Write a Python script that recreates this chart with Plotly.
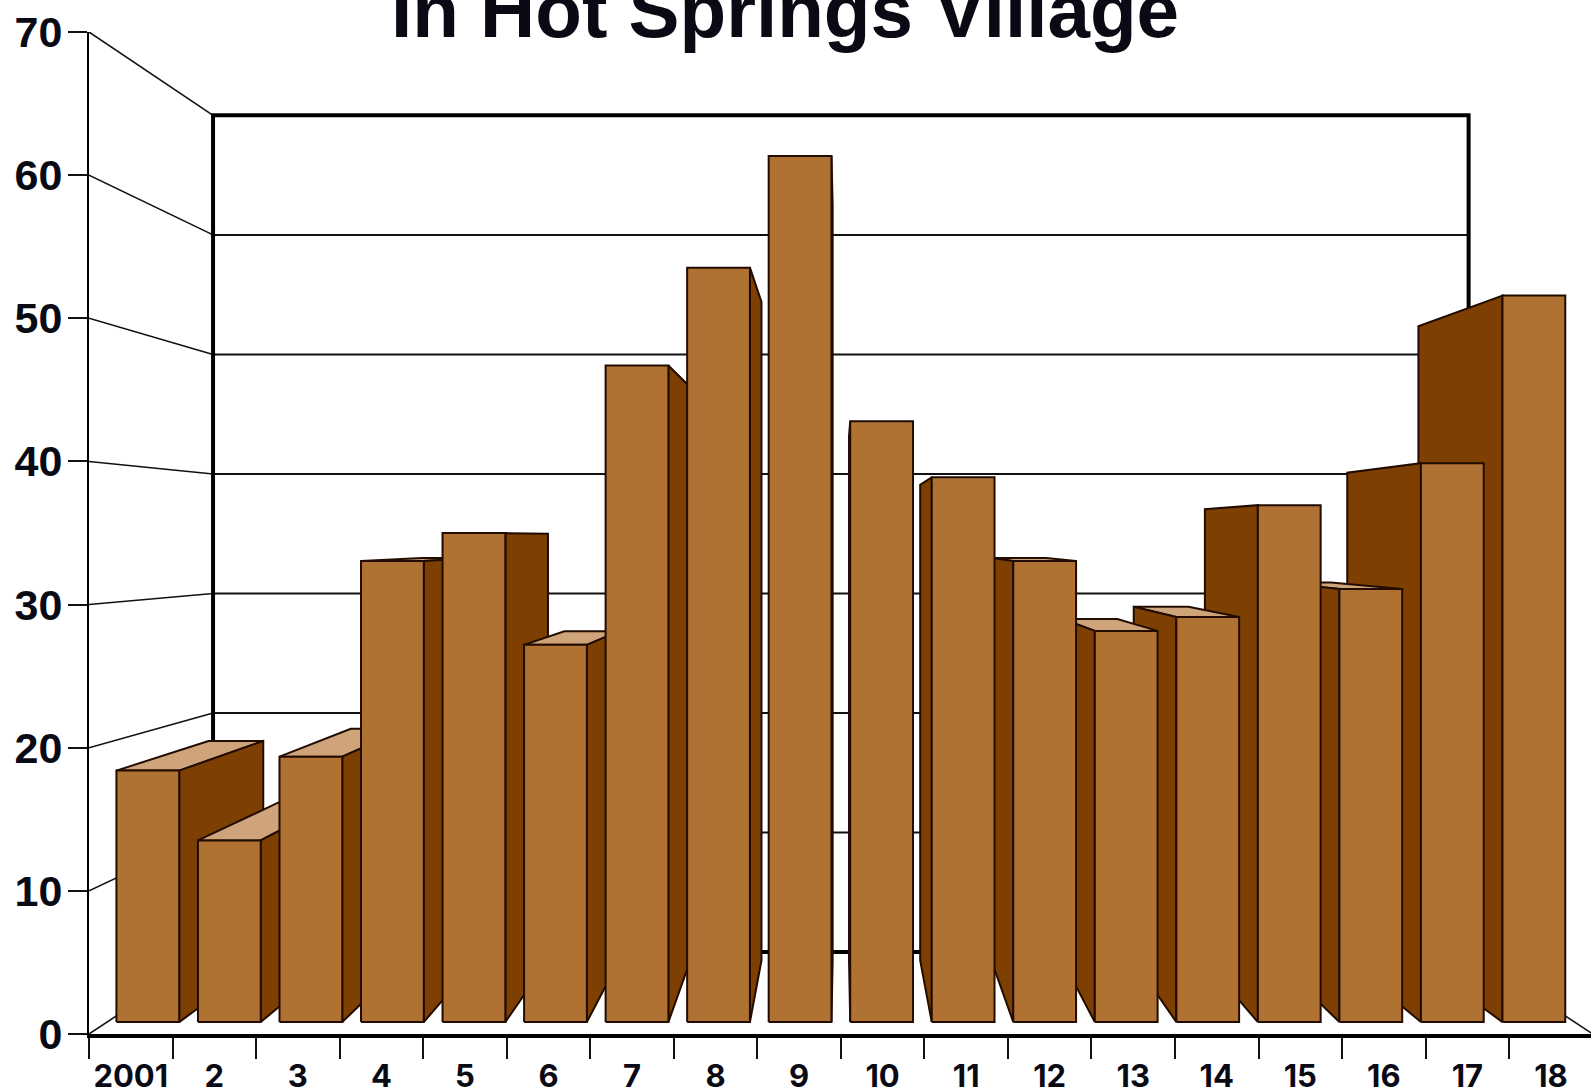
import plotly.graph_objects as go

# ---------- data ----------
categories = ["2001", "2", "3", "4", "5", "6", "7", "8", "9", "10", "11", "12", "13", "14", "15", "16", "17", "18"]
values = [18, 13, 19, 33, 35, 27, 47, 54, 62, 43, 39, 33, 28, 29, 37, 31, 40, 52]
y_ticks = [0, 10, 20, 30, 40, 50, 60, 70]
title_text = "In Hot Springs Village"

# ---------- one-point perspective, in data units ----------
VP_X, VP_Y = 9.0, 34.7      # vanishing point
S_WALL = 0.835              # scale of the back wall
S_BAR_FRONT = 0.976         # scale of the bars' front face
S_BAR_BACK = 0.852          # scale of the bars' back face
BAR_L, BAR_R = 0.115, 0.885 # bar edges inside a slot
N = len(values)

FACE, SIDE, TOP, EDGE = "#B07233", "#7D4002", "#D0A47A", "#220C00"


def P(x, v, s):
    return VP_X + s * (x - VP_X), VP_Y + s * (v - VP_Y)


fig = go.Figure()


def poly(points, fill=None, color="#111111", width=2):
    xs = [p[0] for p in points]
    ys = [p[1] for p in points]
    kw = dict(fill="toself", fillcolor=fill) if fill else {}
    fig.add_trace(go.Scatter(x=xs, y=ys, mode="lines", showlegend=False, hoverinfo="skip",
                             line=dict(color=color, width=width), **kw))


# back wall grid
for v in y_ticks[1:-1]:
    poly([P(0, v, S_WALL), P(N, v, S_WALL)], width=2)
# side wall receding lines
for v in y_ticks:
    poly([P(0, v, 1), P(0, v, S_WALL)], width=1.6)
    if v == 0:
        poly([P(N, v, 1), P(N, v, S_WALL)], width=1.6)
# back wall frame
poly([P(0, 0, S_WALL), P(0, 70, S_WALL), P(N, 70, S_WALL), P(N, 0, S_WALL), P(0, 0, S_WALL)],
     color="#000000", width=4)

# bars: outside in, towards the centre
order = list(range(0, N // 2)) + list(range(N - 1, N // 2 - 1, -1))
for i in order:
    v = values[i]
    xl, xr = i + BAR_L, i + BAR_R
    xs = xr if i < N // 2 else xl
    if v < VP_Y:
        poly([P(xl, v, S_BAR_FRONT), P(xl, v, S_BAR_BACK), P(xr, v, S_BAR_BACK),
              P(xr, v, S_BAR_FRONT), P(xl, v, S_BAR_FRONT)], fill=TOP, color=EDGE)
    poly([P(xs, 0, S_BAR_FRONT), P(xs, 0, S_BAR_BACK), P(xs, v, S_BAR_BACK),
          P(xs, v, S_BAR_FRONT), P(xs, 0, S_BAR_FRONT)], fill=SIDE, color=EDGE)
    poly([P(xl, 0, S_BAR_FRONT), P(xl, v, S_BAR_FRONT), P(xr, v, S_BAR_FRONT),
          P(xr, 0, S_BAR_FRONT), P(xl, 0, S_BAR_FRONT)], fill=FACE, color=EDGE)

fig.update_layout(
    width=1591, height=1092, margin=dict(l=89, r=0, t=32, b=58),
    paper_bgcolor="white", plot_bgcolor="white", showlegend=False,
    xaxis=dict(
        automargin=False,
        range=[0, 17.98], showgrid=False, zeroline=False, showline=True,
        linecolor="#000000", linewidth=4,
        tickmode="array", tickvals=[i + 0.5 for i in range(N)], ticktext=categories,
        ticks="outside", ticklen=21, tickcolor="rgba(0,0,0,0)", tickwidth=1,
        tickfont=dict(family="Inter", size=31, color="#0A0A14", weight="bold"),
        tickangle=0, ticklabelstandoff=-9,
        minor=dict(tickmode="array", tickvals=list(range(N + 1)), ticks="outside",
                   ticklen=21, tickwidth=2, tickcolor="#111111", showgrid=False),
    ),
    yaxis=dict(
        automargin=False,
        range=[0, 70], showgrid=False, zeroline=False, showline=True,
        linecolor="#000000", linewidth=2,
        tickmode="array", tickvals=y_ticks, ticktext=[str(t) for t in y_ticks],
        ticks="outside", ticklen=19, tickwidth=2, tickcolor="#111111",
        tickfont=dict(family="Liberation Sans", size=43, color="#0A0A14", weight="bold"),
        ticklabelstandoff=-3,
    ),
    annotations=[dict(
        text="<b>" + title_text + "</b>", xref="paper", yref="paper", x=0.4635, y=1.0,
        xanchor="center", yanchor="middle", yshift=22, showarrow=False,
        font=dict(family="Liberation Sans", size=76.4, color="#0A0A14"),
    )],
)

fig.write_html("out.html", config=dict(displayModeBar=False),
               post_script="document.body.style.margin='0';document.body.style.overflow='hidden';")
